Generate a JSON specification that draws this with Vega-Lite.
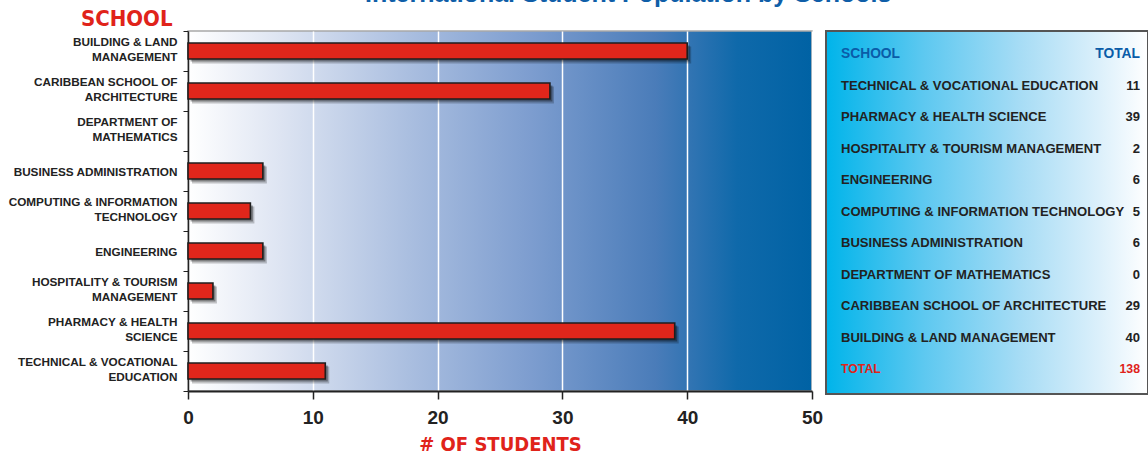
{
  "$schema": "https://vega.github.io/schema/vega-lite/v6.json",
  "background": "white",
  "padding": {"left": 7, "top": -18, "right": 0, "bottom": 0},
  "title": {
    "text": "International Student Population by Schools",
    "font": "Liberation Sans",
    "fontSize": 25,
    "fontWeight": "bold",
    "color": "#0f5ea8",
    "anchor": "middle",
    "dx": 50,
    "offset": -1
  },
  "datasets": {
    "bars": [
      {"school": "BUILDING & LAND MANAGEMENT", "label": "BUILDING & LAND|MANAGEMENT", "students": 40},
      {"school": "CARIBBEAN SCHOOL OF ARCHITECTURE", "label": "CARIBBEAN SCHOOL OF|ARCHITECTURE", "students": 29},
      {"school": "DEPARTMENT OF MATHEMATICS", "label": "DEPARTMENT OF|MATHEMATICS", "students": 0},
      {"school": "BUSINESS ADMINISTRATION", "label": "BUSINESS ADMINISTRATION", "students": 6},
      {"school": "COMPUTING & INFORMATION TECHNOLOGY", "label": "COMPUTING & INFORMATION|TECHNOLOGY", "students": 5},
      {"school": "ENGINEERING", "label": "ENGINEERING", "students": 6},
      {"school": "HOSPITALITY & TOURISM MANAGEMENT", "label": "HOSPITALITY & TOURISM|MANAGEMENT", "students": 2},
      {"school": "PHARMACY & HEALTH SCIENCE", "label": "PHARMACY & HEALTH|SCIENCE", "students": 39},
      {"school": "TECHNICAL & VOCATIONAL EDUCATION", "label": "TECHNICAL & VOCATIONAL|EDUCATION", "students": 11}
    ],
    "table": [
      {"row": 0, "role": "header", "name": "SCHOOL", "total": "TOTAL"},
      {"row": 1, "role": "row", "name": "TECHNICAL & VOCATIONAL EDUCATION", "total": "11"},
      {"row": 2, "role": "row", "name": "PHARMACY & HEALTH SCIENCE", "total": "39"},
      {"row": 3, "role": "row", "name": "HOSPITALITY & TOURISM MANAGEMENT", "total": "2"},
      {"row": 4, "role": "row", "name": "ENGINEERING", "total": "6"},
      {"row": 5, "role": "row", "name": "COMPUTING & INFORMATION TECHNOLOGY", "total": "5"},
      {"row": 6, "role": "row", "name": "BUSINESS ADMINISTRATION", "total": "6"},
      {"row": 7, "role": "row", "name": "DEPARTMENT OF MATHEMATICS", "total": "0"},
      {"row": 8, "role": "row", "name": "CARIBBEAN SCHOOL OF ARCHITECTURE", "total": "29"},
      {"row": 9, "role": "row", "name": "BUILDING & LAND MANAGEMENT", "total": "40"},
      {"row": 10, "role": "total", "name": "TOTAL", "total": "138"}
    ]
  },
  "spacing": 14,
  "bounds": "flush",
  "hconcat": [
    {
      "width": 624,
      "height": 360,
      "data": {"name": "bars"},
      "view": {
        "fill": {
          "gradient": "linear",
          "x1": 0, "y1": 0, "x2": 1, "y2": 0,
          "stops": [
            {"offset": 0, "color": "#ffffff"},
            {"offset": 0.15, "color": "#dde4f2"},
            {"offset": 0.35, "color": "#abbfe0"},
            {"offset": 0.55, "color": "#7d9dcf"},
            {"offset": 0.75, "color": "#4a7cb9"},
            {"offset": 0.88, "color": "#0f69aa"},
            {"offset": 1, "color": "#0062a4"}
          ]
        },
        "stroke": "#a8a8a8",
        "strokeWidth": 1.5
      },
      "encoding": {
        "y": {
          "field": "label",
          "type": "nominal",
          "sort": null,
          "scale": {
            "domain": [
              "BUILDING & LAND|MANAGEMENT",
              "CARIBBEAN SCHOOL OF|ARCHITECTURE",
              "DEPARTMENT OF|MATHEMATICS",
              "BUSINESS ADMINISTRATION",
              "COMPUTING & INFORMATION|TECHNOLOGY",
              "ENGINEERING",
              "HOSPITALITY & TOURISM|MANAGEMENT",
              "PHARMACY & HEALTH|SCIENCE",
              "TECHNICAL & VOCATIONAL|EDUCATION"
            ],
            "paddingInner": 0,
            "paddingOuter": 0
          },
          "axis": {
            "title": "SCHOOL",
            "titleAngle": 0,
            "titleAlign": "right",
            "titleBaseline": "alphabetic",
            "titleX": -16,
            "titleY": -6,
            "titleFont": "DejaVu Sans Condensed",
            "titleFontSize": 22,
            "titleFontWeight": "bold",
            "titleColor": "#e0231a",
            "labelExpr": "isValid(datum.value) ? split(datum.value, '|') : ''",
            "labelOffset": {"condition": {"test": "isValid(datum.value) && indexof(datum.value, '|') >= 0", "value": -10}, "value": 0},
            "labelFont": "Liberation Sans",
            "labelFontSize": 11.75,
            "labelFontWeight": "bold",
            "labelColor": "#222222",
            "labelLineHeight": 15,
            "labelPadding": 6,
            "labelLimit": 250,
            "tickBand": "extent",
            "tickSize": 5,
            "tickColor": "#222222",
            "domainColor": "#222222",
            "domainWidth": 1.5
          }
        },
        "x": {
          "field": "students",
          "type": "quantitative",
          "scale": {"domain": [0, 50], "nice": false},
          "axis": {
            "title": "# OF STUDENTS",
            "values": [0, 10, 20, 30, 40, 50],
            "grid": true,
            "gridColor": "#ffffff",
            "gridWidth": 1.5,
            "domainColor": "#222222",
            "domainWidth": 2,
            "tickColor": "#222222",
            "tickSize": 8,
            "tickWidth": 1.5,
            "labelFlush": false,
            "labelFont": "Liberation Sans",
            "labelFontSize": 19,
            "labelFontWeight": "bold",
            "labelColor": "#222222",
            "labelPadding": 9,
            "titleFont": "DejaVu Sans Condensed",
            "titleFontSize": 20,
            "titleFontWeight": "bold",
            "titleColor": "#e0231a",
            "titlePadding": 7
          }
        }
      },
      "layer": [
        {
          "transform": [{"filter": "datum.students > 0"}],
          "mark": {"type": "bar", "color": "#000000", "opacity": 0.22, "size": 17, "xOffset": 4, "yOffset": 4}
        },
        {
          "transform": [{"filter": "datum.students > 0"}],
          "mark": {"type": "bar", "color": "#000000", "opacity": 0.35, "size": 16, "xOffset": 2.5, "yOffset": 2.5}
        },
        {
          "transform": [{"filter": "datum.students > 0"}],
          "mark": {"type": "bar", "color": "#e0261b", "stroke": "#1e1e1e", "strokeWidth": 1.6, "size": 16}
        }
      ]
    },
    {
      "width": 322,
      "height": 363,
      "data": {"name": "table"},
      "view": {
        "fill": {
          "gradient": "linear",
          "x1": 0, "y1": 0, "x2": 1, "y2": 0,
          "stops": [
            {"offset": 0, "color": "#00b4ea"},
            {"offset": 0.3, "color": "#5cc8f0"},
            {"offset": 0.6, "color": "#a6dcf5"},
            {"offset": 0.85, "color": "#dcf0fb"},
            {"offset": 1, "color": "#ffffff"}
          ]
        },
        "stroke": "#555555",
        "strokeWidth": 2
      },
      "encoding": {
        "y": {
          "field": "row",
          "type": "ordinal",
          "sort": null,
          "scale": {"type": "point", "range": [23, 338], "padding": 0},
          "axis": null
        },
        "color": {
          "field": "role",
          "type": "nominal",
          "scale": {"domain": ["header", "row", "total"], "range": ["#0a5ca8", "#222222", "#e0231a"]},
          "legend": null
        },
        "size": {
          "field": "role",
          "type": "nominal",
          "scale": {"domain": ["header", "row", "total"], "range": [13.8, 12.3, 13.8]},
          "legend": null
        }
      },
      "layer": [
        {
          "mark": {"type": "text", "align": "left", "baseline": "middle", "font": "Liberation Sans", "fontWeight": "bold"},
          "encoding": {
            "x": {"datum": 15, "type": "quantitative", "scale": {"domain": [0, 322], "nice": false}, "axis": null},
            "text": {"field": "name"}
          }
        },
        {
          "mark": {"type": "text", "align": "right", "baseline": "middle", "font": "Liberation Sans", "fontWeight": "bold"},
          "encoding": {
            "x": {"datum": 314, "type": "quantitative", "scale": {"domain": [0, 322], "nice": false}, "axis": null},
            "text": {"field": "total"}
          }
        }
      ]
    }
  ]
}
